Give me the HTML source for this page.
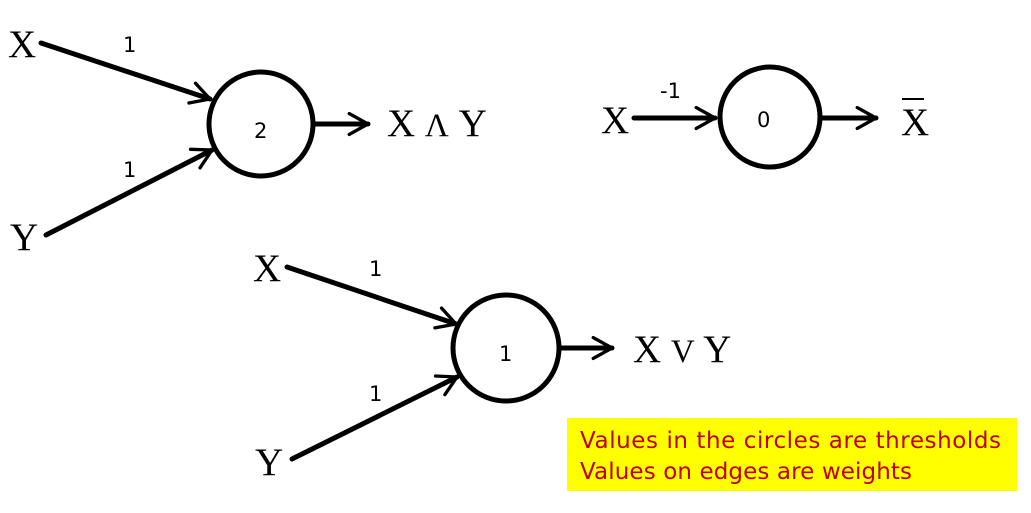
<!DOCTYPE html>
<html><head><meta charset="utf-8"><style>
html,body{margin:0;padding:0;background:#fff;}
svg{display:block;}
.v{font-family:"Liberation Serif",serif;font-size:39px;fill:#000;}
.op{font-family:"Liberation Serif",serif;font-size:33px;}
.w{font-family:"DejaVu Sans","Liberation Sans",sans-serif;font-size:21px;fill:#000;}
.n{fill:none;stroke:#000;stroke-width:5;}
.a{fill:none;stroke:#000;stroke-width:5;stroke-linecap:round;stroke-linejoin:round;}
</style></head><body>
<svg width="1031" height="513" viewBox="0 0 1031 513">
<defs>
<marker id="ah" viewBox="0 0 12 12" refX="10" refY="6" markerWidth="5" markerHeight="5" markerUnits="strokeWidth" orient="auto">
<path d="M1,1 L10,6 L1,11" fill="none" stroke="#000" stroke-width="1.6" stroke-linecap="round" stroke-linejoin="round"/>
</marker>
</defs>
<g>
<text class="v" x="8" y="57">X</text>
<text class="v" x="10" y="250">Y</text>
<line class="a" x1="41" y1="43" x2="210" y2="99" marker-end="url(#ah)"/>
<line class="a" x1="46" y1="235" x2="212" y2="150" marker-end="url(#ah)"/>
<text class="w" x="123" y="52">1</text>
<text class="w" x="123" y="177">1</text>
<circle class="n" cx="261" cy="124" r="52"/>
<text class="w" x="254" y="138">2</text>
<line class="a" x1="314" y1="124" x2="368" y2="124" marker-end="url(#ah)"/>
<text class="v" x="387" y="136">X <tspan class="op">Λ</tspan> Y</text>
</g>
<g>
<text class="v" x="601" y="133">X</text>
<line class="a" x1="634" y1="118" x2="715" y2="118" marker-end="url(#ah)"/>
<text class="w" x="660" y="98">-1</text>
<circle class="n" cx="770" cy="117" r="50"/>
<text class="w" x="757" y="127">0</text>
<line class="a" x1="822" y1="118" x2="876" y2="118" marker-end="url(#ah)"/>
<text class="v" x="901" y="135">X</text>
<line x1="902" y1="99" x2="924" y2="99" stroke="#000" stroke-width="2"/>
</g>
<g>
<text class="v" x="253" y="281">X</text>
<text class="v" x="255" y="475">Y</text>
<line class="a" x1="287" y1="267" x2="456" y2="324" marker-end="url(#ah)"/>
<line class="a" x1="292" y1="459" x2="457" y2="377" marker-end="url(#ah)"/>
<text class="w" x="369" y="276">1</text>
<text class="w" x="369" y="401">1</text>
<circle class="n" cx="506" cy="348" r="53"/>
<text class="w" x="499" y="361">1</text>
<line class="a" x1="560" y1="348" x2="612" y2="348" marker-end="url(#ah)"/>
<text class="v" x="633" y="362">X <tspan class="op">V</tspan> Y</text>
</g>
<g>
<rect x="567" y="418" width="450" height="73" fill="#ffff00"/>
<text x="580" y="448" font-family="'Comic Sans MS','DejaVu Sans',sans-serif" font-size="23" fill="#c00000" textLength="421" lengthAdjust="spacing">Values in the circles are thresholds</text>
<text x="580" y="479" font-family="'Comic Sans MS','DejaVu Sans',sans-serif" font-size="23" fill="#c00000" textLength="332" lengthAdjust="spacing">Values on edges are weights</text>
</g>
</svg>
</body></html>
